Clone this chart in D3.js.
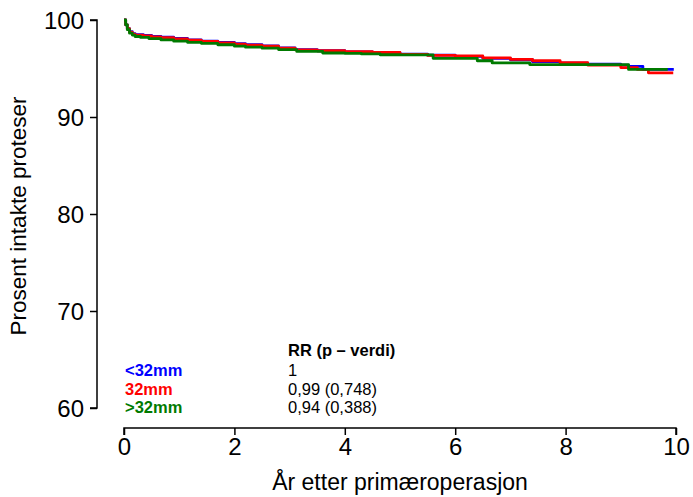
<!DOCTYPE html>
<html><head><meta charset="utf-8">
<script src="https://cdn.jsdelivr.net/npm/d3@7"></script>
<style>body{margin:0;background:#fff}svg{display:block;font-family:"Liberation Sans",Arial,sans-serif}</style>
</head><body><svg id="c" width="693" height="497"></svg>
<script>
// Kaplan-Meier style step data (years, percent intact)
const seriesNames = ["<32mm", "32mm", ">32mm"];
const seriesColors = ["#0000ff", "#ff0000", "#007a00"];
const rrValues = ["1", "0,99 (0,748)", "0,94 (0,388)"];
const blueT = [0, 0.03, 0.06, 0.1, 0.15, 0.2, 0.35, 0.5, 0.67, 0.9, 1.15, 1.4, 1.7, 2.0, 2.2, 2.5, 2.8, 3.1, 3.5, 4.0, 4.5, 5.0, 5.5, 6.0, 6.5, 7.0, 7.4, 7.9, 8.4, 9.0, 9.14, 9.4, 9.96];
const blueV = [100, 99.5, 99.1, 98.8, 98.6, 98.5, 98.4, 98.3, 98.22, 98.1, 97.95, 97.83, 97.68, 97.55, 97.45, 97.32, 97.12, 96.95, 96.83, 96.72, 96.62, 96.48, 96.38, 96.25, 96.05, 95.9, 95.7, 95.55, 95.45, 95.35, 95.22, 94.9, 94.9];
const redT = [0, 0.03, 0.06, 0.1, 0.15, 0.2, 0.35, 0.5, 0.67, 0.9, 1.15, 1.4, 1.7, 2.0, 2.2, 2.5, 2.8, 3.1, 3.5, 4.0, 4.5, 5.0, 5.5, 6.0, 6.5, 7.0, 7.4, 7.9, 8.4, 9.0, 9.3, 9.5, 9.95];
const redV = [100, 99.5, 99.1, 98.75, 98.55, 98.45, 98.35, 98.27, 98.19, 98.05, 97.92, 97.8, 97.65, 97.52, 97.41, 97.3, 97.1, 96.93, 96.83, 96.75, 96.65, 96.45, 96.35, 96.3, 96.1, 95.95, 95.8, 95.6, 95.35, 95.1, 94.9, 94.55, 94.55];
const greenT = [0, 0.03, 0.06, 0.1, 0.15, 0.2, 0.3, 0.45, 0.67, 0.9, 1.15, 1.4, 1.7, 2.0, 2.2, 2.5, 2.8, 3.13, 3.6, 4.0, 4.3, 4.64, 5.0, 5.6, 6.4, 6.67, 7.35, 9.14, 9.85];
const greenV = [100, 99.5, 99.0, 98.64, 98.45, 98.3, 98.2, 98.08, 97.95, 97.82, 97.7, 97.6, 97.45, 97.3, 97.2, 97.1, 96.95, 96.76, 96.6, 96.55, 96.5, 96.42, 96.4, 96.05, 95.8, 95.57, 95.4, 94.9, 94.9];
const xTicks = [0, 2, 4, 6, 8, 10];
const yTicks = [60, 70, 80, 90, 100];
const xTitle = "År etter primæroperasjon";
const yTitle = "Prosent intakte proteser";
const legendTitle = "RR (p \u2013 verdi)";

const series = [
  {name: seriesNames[0], color: seriesColors[0], t: blueT, v: blueV},
  {name: seriesNames[1], color: seriesColors[1], t: redT, v: redV},
  {name: seriesNames[2], color: seriesColors[2], t: greenT, v: greenV}
];

const svg = d3.select("#c");
const x = d3.scaleLinear().domain([0, 10]).range([124, 676]);
const y = d3.scaleLinear().domain([60, 100]).range([408, 20]);

// axes (R base style, detached)
const xAxis = svg.append("g").attr("transform", "translate(0,428)")
  .call(d3.axisBottom(x).tickValues(xTicks).tickSize(7).tickPadding(3).tickFormat(d3.format("d")));
const yAxis = svg.append("g").attr("transform", "translate(97,0)")
  .call(d3.axisLeft(y).tickValues(yTicks).tickSize(7).tickPadding(6).tickFormat(d3.format("d")));
[xAxis, yAxis].forEach(g => {
  g.selectAll("path.domain").attr("stroke", "#000").attr("stroke-width", 1.5);
  g.selectAll(".tick line").attr("stroke", "#000").attr("stroke-width", 1.5);
  g.selectAll(".tick text").attr("font-family", "Liberation Sans, Arial, sans-serif").attr("font-size", 24).attr("fill", "#000");
});
xAxis.selectAll("path.domain").attr("d", `M${x(0)},7V0H${x(10)}V7`);
yAxis.selectAll("path.domain").attr("d", `M-7,${y(100)}H0V${y(60)}H-7`);
yAxis.selectAll(".tick text").attr("dy", "0.36em");

// titles
svg.append("text").attr("x", 400).attr("y", 490).attr("text-anchor", "middle")
  .attr("font-size", 23).text(xTitle);
svg.append("text").attr("transform", "translate(26,216) rotate(-90)").attr("text-anchor", "middle")
  .attr("font-size", 22.5).text(yTitle);

// curves
const line = d3.line().x(d => x(d[0])).y(d => y(d[1])).curve(d3.curveStepAfter);
series.forEach(s => {
  const pts = s.t.map((t, i) => [t, s.v[i]]);
  svg.append("path").attr("d", line(pts)).attr("fill", "none")
    .attr("stroke", s.color).attr("stroke-width", 2.8).attr("stroke-linejoin", "round");
});

// legend / RR table
svg.append("text").attr("x", 288).attr("y", 356).attr("font-size", 16.5).attr("font-weight", "bold").text(legendTitle);
series.forEach((s, i) => {
  const yy = 376 + i * 18.5;
  svg.append("text").attr("x", 125).attr("y", yy).attr("font-size", 16.5).attr("font-weight", "bold")
    .attr("fill", s.color).text(s.name);
  svg.append("text").attr("x", 288).attr("y", yy).attr("font-size", 16.5).text(rrValues[i]);
});
</script></body></html>
